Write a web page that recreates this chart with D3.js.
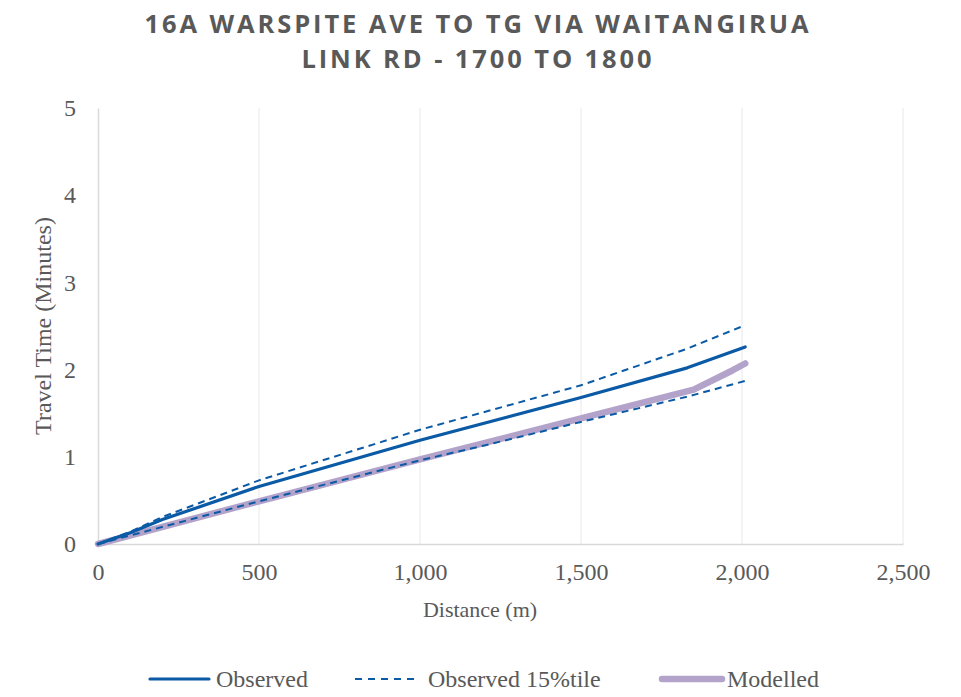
<!DOCTYPE html>
<html><head><meta charset="utf-8">
<script src="https://cdn.jsdelivr.net/npm/d3@7/dist/d3.min.js"></script>
<style>
body{margin:0;background:#fff;}
text{font-family:"Liberation Serif","DejaVu Serif",serif;fill:#595959;}
.title{font-family:"Open Sans",sans-serif;font-weight:bold;letter-spacing:2.9px;font-size:25.5px;}
</style></head>
<body>
<script>
const titleLines = ["16A WARSPITE AVE TO TG VIA WAITANGIRUA", "LINK RD - 1700 TO 1800"];
const xLabel = "Distance (m)";
const yLabel = "Travel Time (Minutes)";
const xTicks = [0, 500, 1000, 1500, 2000, 2500];
const yTicks = [0, 1, 2, 3, 4, 5];
const observedDist = [0, 100, 200, 500, 1000, 1500, 1830, 2010];
const observedTime = [0, 0.13, 0.28, 0.66, 1.19, 1.68, 2.02, 2.26];
const obs15Dist = [0, 100, 200, 500, 1000, 1500, 1830, 2010];
const obs15Upper = [0, 0.14, 0.31, 0.73, 1.31, 1.82, 2.24, 2.51];
const obs15LowerDist = [0, 500, 1000, 1200, 1500, 1830, 2010];
const obs15Lower = [0, 0.49, 0.96, 1.13, 1.40, 1.69, 1.87];
const modelledDist = [0, 500, 1000, 1500, 1850, 1970, 2010];
const modelledTime = [0, 0.49, 0.97, 1.44, 1.77, 1.99, 2.07];
const seriesNames = ["Observed", "Observed 15%tile", "Modelled"];

const W = 961, H = 697;
const svg = d3.select("body").append("svg").attr("width", W).attr("height", H);
const x = d3.scaleLinear().domain([0, 2500]).range([98, 903]);
const y = d3.scaleLinear().domain([0, 5]).range([544, 108]);

svg.selectAll("text.title").data(titleLines).enter().append("text")
  .attr("class","title").attr("x", 478).attr("y",(d,i)=>33+i*35)
  .attr("text-anchor","middle").text(d=>d);

// vertical gridlines
svg.append("g").selectAll("line").data(xTicks.slice(1)).enter().append("line")
  .attr("x1",d=>x(d)).attr("x2",d=>x(d)).attr("y1",y(5)).attr("y2",y(0))
  .attr("stroke","#e8e8e8").attr("stroke-width",1);

const xAxis = svg.append("g").attr("transform",`translate(0,${y(0)})`)
  .call(d3.axisBottom(x).tickValues(xTicks).tickSize(0).tickPadding(19).tickFormat(d3.format(",")));
xAxis.select(".domain").attr("stroke","#d9d9d9").attr("stroke-width",1.5);
xAxis.selectAll("text").attr("font-size","24px").attr("fill","#595959").attr("font-family","Liberation Serif");

const yAxis = svg.append("g").attr("transform",`translate(${x(0)},0)`)
  .call(d3.axisLeft(y).tickValues(yTicks).tickSize(0).tickPadding(22).tickFormat(d3.format("d")));
yAxis.select(".domain").attr("stroke","#d9d9d9").attr("stroke-width",1.5);
yAxis.selectAll("text").attr("font-size","24px").attr("fill","#595959").attr("font-family","Liberation Serif");

svg.append("text").attr("x",480).attr("y",617).attr("text-anchor","middle")
  .attr("font-size","22px").text(xLabel);
svg.append("text").attr("transform","translate(51,326) rotate(-90)").attr("text-anchor","middle")
  .attr("font-size","24px").text(yLabel);

const line = d3.line().x(d=>x(d[0])).y(d=>y(d[1]));
const zip = (a,b)=>a.map((v,i)=>[v,b[i]]);
const blue = "#0B5AA5", purple = "#B3A3CB";

svg.append("path").datum(zip(modelledDist, modelledTime)).attr("d",line)
  .attr("fill","none").attr("stroke",purple).attr("stroke-width",6.5).attr("stroke-linecap","round").attr("stroke-linejoin","round");
svg.append("path").datum(zip(obs15Dist, obs15Upper)).attr("d",line)
  .attr("fill","none").attr("stroke",blue).attr("stroke-width",2).attr("stroke-dasharray","7,5");
svg.append("path").datum(zip(obs15LowerDist, obs15Lower)).attr("d",line)
  .attr("fill","none").attr("stroke",blue).attr("stroke-width",2).attr("stroke-dasharray","7,5");
svg.append("path").datum(zip(observedDist, observedTime)).attr("d",line)
  .attr("fill","none").attr("stroke",blue).attr("stroke-width",3.2).attr("stroke-linecap","round").attr("stroke-linejoin","round");

// legend
const ly = 679;
const lg = svg.append("g");
lg.append("line").attr("x1",150).attr("x2",209).attr("y1",ly).attr("y2",ly).attr("stroke",blue).attr("stroke-width",3.2).attr("stroke-linecap","round");
lg.append("text").attr("x",216).attr("y",ly+8).attr("font-size","24px").text(seriesNames[0]);
lg.append("line").attr("x1",355).attr("x2",418).attr("y1",ly).attr("y2",ly).attr("stroke",blue).attr("stroke-width",2).attr("stroke-dasharray","7,6");
lg.append("text").attr("x",428).attr("y",ly+8).attr("font-size","24px").text(seriesNames[1]);
lg.append("line").attr("x1",662).attr("x2",722).attr("y1",ly).attr("y2",ly).attr("stroke",purple).attr("stroke-width",6.5).attr("stroke-linecap","round");
lg.append("text").attr("x",727).attr("y",ly+8).attr("font-size","24px").text(seriesNames[2]);
</script>
</body></html>
